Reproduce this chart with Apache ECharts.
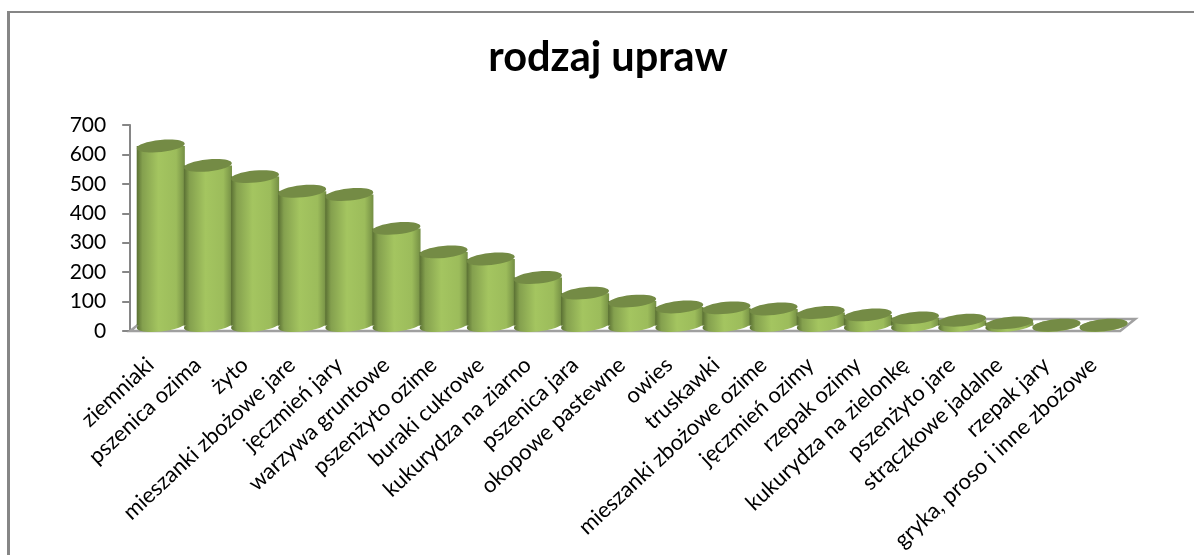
<!DOCTYPE html>
<html>
<head>
<meta charset="utf-8">
<style>
    html, body { margin: 0; padding: 0; background: #fff; }
    #chart { width: 1194px; height: 555px; }
</style>
<script src="https://cdn.jsdelivr.net/npm/echarts@6/dist/echarts.min.js"></script>
</head>
<body>
<div id="chart"></div>
<script>
var titleText = 'rodzaj upraw';
var categories = ['ziemniaki', 'pszenica ozima', 'żyto', 'mieszanki zbożowe jare', 'jęczmień jary',
    'warzywa gruntowe', 'pszenżyto ozime', 'buraki cukrowe', 'kukurydza na ziarno', 'pszenica jara',
    'okopowe pastewne', 'owies', 'truskawki', 'mieszanki zbożowe ozime', 'jęczmień ozimy',
    'rzepak ozimy', 'kukurydza na zielonkę', 'pszenżyto jare', 'strączkowe jadalne', 'rzepak jary',
    'gryka, proso i inne zbożowe'];
var values = [610, 544, 506, 456, 445, 330, 250, 226, 163, 110, 83, 63, 60, 56, 44, 36, 26, 18, 9, 1, 1];

var fontName = 'Lato';
var chart = echarts.init(document.getElementById('chart'));

// cylinder side shading, dark edge on the left
var sideColor = new echarts.graphic.LinearGradient(0, 0, 1, 0, [
    { offset: 0, color: '#5a7033' },
    { offset: 0.12, color: '#84a04e' },
    { offset: 0.45, color: '#a4c560' },
    { offset: 0.82, color: '#9cbc5b' },
    { offset: 1, color: '#748e44' }
]);

function renderFloor(params, api) {
    var c = params.coordSys;
    var bottom = c.y + c.height;
    return {
        type: 'polygon',
        shape: {
            points: [
                [c.x - 7, bottom],
                [c.x + c.width - 7, bottom],
                [c.x + c.width + 8, bottom - 12],
                [c.x + 8, bottom - 12]
            ]
        },
        style: { fill: '#fff', stroke: '#a0a0a0', lineWidth: 2.5 }
    };
}

function renderCylinder(params, api) {
    var i = api.value(0);
    var top = api.coord([i, api.value(1)]);
    var base = api.coord([i, 0]);
    var rx = api.size([1, 0])[0] / 2 + 0.5;
    var ry = 6;
    var lift = 5.5; // floor depth, the cylinder stands in the middle of it
    var topY = top[1] - lift;
    var baseY = base[1] - lift;
    var tilt = 0.1;
    return {
        type: 'group',
        children: [
            {
                type: 'ellipse',
                shape: { cx: top[0], cy: baseY, rx: rx, ry: ry },
                rotation: tilt,
                originX: top[0],
                originY: baseY,
                style: { fill: sideColor }
            },
            {
                type: 'rect',
                shape: { x: top[0] - rx, y: topY, width: rx * 2, height: baseY - topY },
                style: { fill: sideColor }
            },
            {
                type: 'ellipse',
                shape: { cx: top[0], cy: topY, rx: rx, ry: ry },
                rotation: tilt,
                originX: top[0],
                originY: topY,
                style: { fill: '#748b45' }
            }
        ]
    };
}

chart.setOption({
    animation: false,
    backgroundColor: '#fff',
    title: {
        text: titleText,
        left: 603,
        top: 32,
        textAlign: 'center',
        textStyle: { fontFamily: fontName, fontWeight: 'bold', fontSize: 41.5, color: '#000' }
    },
    graphic: [
        { type: 'rect', shape: { x: 7, y: 11, width: 3, height: 544 }, style: { fill: '#868686' } },
        { type: 'rect', shape: { x: 7, y: 11, width: 1187, height: 2 }, style: { fill: '#868686' } }
    ],
    grid: { left: 137.2, top: 125, width: 990, height: 206 },
    xAxis: {
        type: 'category',
        data: categories,
        axisLine: { show: false },
        axisTick: { show: false },
        axisLabel: {
            interval: 0,
            rotate: 43,
            margin: 21,
            padding: [0, 14, 0, 0],
            fontFamily: fontName,
            fontSize: 22,
            color: '#000'
        }
    },
    yAxis: {
        type: 'value',
        min: 0,
        max: 700,
        interval: 100,
        offset: 7,
        splitLine: { show: false },
        axisLine: { show: true, lineStyle: { color: '#868686', width: 2 } },
        axisTick: { show: true, length: 8, lineStyle: { color: '#868686', width: 2 } },
        axisLabel: { margin: 24, fontFamily: fontName, fontSize: 21, color: '#000' }
    },
    series: [
        {
            type: 'custom',
            silent: true,
            renderItem: renderFloor,
            data: [0],
            z: 1
        },
        {
            type: 'custom',
            renderItem: renderCylinder,
            encode: { x: 0, y: 1 },
            data: values.map(function (v, i) { return [i, v]; }),
            z: 2
        }
    ]
});
</script>
</body>
</html>
